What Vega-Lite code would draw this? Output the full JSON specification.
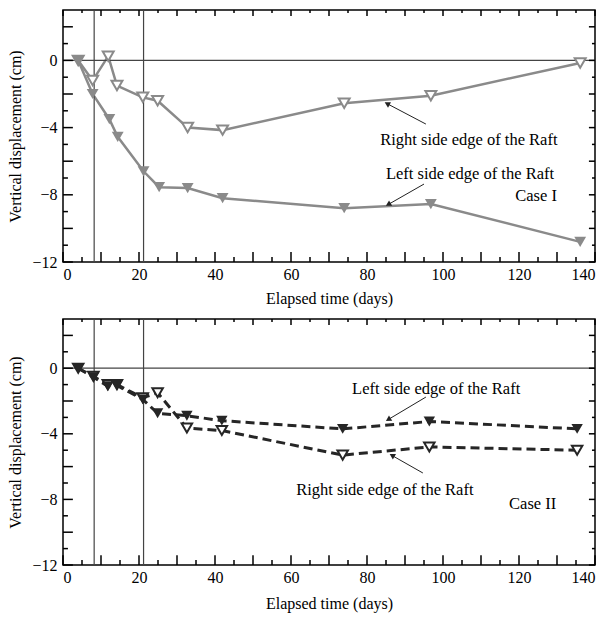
{
  "$schema": "https://vega.github.io/schema/vega-lite/v6.json",
  "padding": {"left": 7, "top": 8, "right": 18, "bottom": 4},
  "background": "white",
  "bounds": "flush",
  "spacing": 57,
  "config": {
    "view": {"stroke": "black", "strokeWidth": 1.5},
    "axis": {"grid": false, "ticks": false, "domain": false, "labelOverlap": false, "labelFont": "Liberation Serif", "titleFont": "Liberation Serif", "labelFontSize": 16, "titleFontSize": 16, "titleFontWeight": "normal", "labelColor": "black", "titleColor": "black"},
    "text": {"font": "Liberation Serif", "fontSize": 16.5, "color": "black"}
  },
  "datasets": {
    "xt": [
      {"day": 0, "m": 1}, {"day": 5, "m": 0}, {"day": 10, "m": 1}, {"day": 15, "m": 0}, {"day": 20, "m": 1}, {"day": 25, "m": 0}, {"day": 30, "m": 1}, {"day": 35, "m": 0}, {"day": 40, "m": 1}, {"day": 45, "m": 0}, {"day": 50, "m": 1}, {"day": 55, "m": 0}, {"day": 60, "m": 1}, {"day": 65, "m": 0}, {"day": 70, "m": 1}, {"day": 75, "m": 0}, {"day": 80, "m": 1}, {"day": 85, "m": 0}, {"day": 90, "m": 1}, {"day": 95, "m": 0}, {"day": 100, "m": 1}, {"day": 105, "m": 0}, {"day": 110, "m": 1}, {"day": 115, "m": 0}, {"day": 120, "m": 1}, {"day": 125, "m": 0}, {"day": 130, "m": 1}, {"day": 135, "m": 0}, {"day": 140, "m": 1}
    ],
    "yt": [
      {"disp": -12, "m": 1}, {"disp": -11, "m": 0}, {"disp": -10, "m": 1}, {"disp": -9, "m": 0}, {"disp": -8, "m": 1}, {"disp": -7, "m": 0}, {"disp": -6, "m": 1}, {"disp": -5, "m": 0}, {"disp": -4, "m": 1}, {"disp": -3, "m": 0}, {"disp": -2, "m": 1}, {"disp": -1, "m": 0}, {"disp": 0, "m": 1}, {"disp": 1, "m": 0}, {"disp": 2, "m": 1}
    ],
    "case1": [
      {"edge": "Left", "day": 4, "disp": 0}, {"edge": "Left", "day": 7.8, "disp": -2.0}, {"edge": "Left", "day": 12.2, "disp": -3.5}, {"edge": "Left", "day": 14.4, "disp": -4.55}, {"edge": "Left", "day": 21.2, "disp": -6.6}, {"edge": "Left", "day": 25.3, "disp": -7.55}, {"edge": "Left", "day": 32.8, "disp": -7.6}, {"edge": "Left", "day": 42, "disp": -8.2}, {"edge": "Left", "day": 74, "disp": -8.8}, {"edge": "Left", "day": 96.8, "disp": -8.55}, {"edge": "Left", "day": 136.1, "disp": -10.8},
      {"edge": "Right", "day": 4, "disp": 0}, {"edge": "Right", "day": 7.8, "disp": -1.2}, {"edge": "Right", "day": 11.9, "disp": 0.25}, {"edge": "Right", "day": 14.2, "disp": -1.5}, {"edge": "Right", "day": 21, "disp": -2.2}, {"edge": "Right", "day": 24.9, "disp": -2.4}, {"edge": "Right", "day": 32.8, "disp": -4.0}, {"edge": "Right", "day": 42, "disp": -4.15}, {"edge": "Right", "day": 74, "disp": -2.55}, {"edge": "Right", "day": 96.8, "disp": -2.1}, {"edge": "Right", "day": 136.1, "disp": -0.15}
    ],
    "case2": [
      {"edge": "Left", "day": 4, "disp": 0}, {"edge": "Left", "day": 8, "disp": -0.55}, {"edge": "Left", "day": 11.8, "disp": -1.1}, {"edge": "Left", "day": 14.2, "disp": -1.05}, {"edge": "Left", "day": 21, "disp": -1.9}, {"edge": "Left", "day": 24.9, "disp": -2.75}, {"edge": "Left", "day": 32.6, "disp": -2.9}, {"edge": "Left", "day": 41.8, "disp": -3.2}, {"edge": "Left", "day": 73.6, "disp": -3.7}, {"edge": "Left", "day": 96.4, "disp": -3.25}, {"edge": "Left", "day": 135.3, "disp": -3.7},
      {"edge": "Right", "day": 4, "disp": 0}, {"edge": "Right", "day": 8, "disp": -0.5}, {"edge": "Right", "day": 11.8, "disp": -1.0}, {"edge": "Right", "day": 14.2, "disp": -1.0}, {"edge": "Right", "day": 21, "disp": -1.8}, {"edge": "Right", "day": 24.9, "disp": -1.5}, {"edge": "Right", "day": 32.6, "disp": -3.65}, {"edge": "Right", "day": 41.8, "disp": -3.8}, {"edge": "Right", "day": 73.6, "disp": -5.3}, {"edge": "Right", "day": 96.4, "disp": -4.8}, {"edge": "Right", "day": 135.3, "disp": -5.0}
    ],
    "notes1": [
      {"day": 106.8, "disp": -4.74, "label": "Right side edge of the Raft"},
      {"day": 107.1, "disp": -6.76, "label": "Left side edge of the Raft"},
      {"day": 124.5, "disp": -8.07, "label": "Case I"}
    ],
    "notes2": [
      {"day": 98.2, "disp": -1.27, "label": "Left side edge of the Raft"},
      {"day": 84.7, "disp": -7.43, "label": "Right side edge of the Raft"},
      {"day": 123.6, "disp": -8.28, "label": "Case II"}
    ],
    "arrows1": [
      {"which": "R", "day": 95.5, "disp": -3.79, "day2": 85.5, "disp2": -2.6},
      {"which": "L", "day": 95, "disp": -7.36, "day2": 85.8, "disp2": -8.55}
    ],
    "arrows2": [
      {"which": "L", "day": 95.5, "disp": -1.76, "day2": 85.8, "disp2": -3.1},
      {"which": "R", "day": 94.7, "disp": -6.39, "day2": 86.8, "disp2": -5.35}
    ]
  },
  "vconcat": [
    {
      "width": 532, "height": 252,
      "layer": [
        {"data": {"name": "case1"},
         "mark": {"type": "line", "color": "#8a8a8a", "strokeWidth": 2.5},
         "encoding": {
           "x": {"field": "day", "type": "quantitative", "scale": {"domain": [0, 140], "nice": false},
             "axis": {"orient": "bottom", "values": [0,10,20,30,40,50,60,70,80,90,100,110,120,130,140], "labelOverlap": false, "labelPadding": 4, "title": "Elapsed time (days)", "titlePadding": 8}},
           "y": {"field": "disp", "type": "quantitative", "scale": {"domain": [-12, 3], "nice": false},
             "axis": {"orient": "left", "values": [-12,-10,-8,-6,-4,-2,0,2], "labelOverlap": false, "labelPadding": 6, "title": "Vertical displacement (cm)", "titlePadding": 8}},
           "detail": {"field": "edge"}}},
        {"data": {"values": [{"day": 8.2}, {"day": 21.2}]},
         "mark": {"type": "rule", "color": "#444", "strokeWidth": 1.2},
         "encoding": {"x": {"field": "day", "type": "quantitative", "scale": {"domain": [0, 140], "nice": false}}}},
        {"data": {"values": [{"disp": 0}]},
         "mark": {"type": "rule", "color": "#444", "strokeWidth": 1.2},
         "encoding": {"y": {"field": "disp", "type": "quantitative", "scale": {"domain": [-12, 3], "nice": false}}}},
        {"data": {"name": "xt"}, "transform": [{"filter": "datum.m === 1"}], "mark": {"type": "rule", "color": "black", "strokeWidth": 1.5},
         "encoding": {"x": {"field": "day", "type": "quantitative", "scale": {"domain": [0, 140], "nice": false}}, "y": {"datum": -12, "type": "quantitative", "scale": {"domain": [-12, 3], "nice": false}}, "y2": {"datum": -11.4}}},
        {"data": {"name": "xt"}, "transform": [{"filter": "datum.m === 0"}], "mark": {"type": "rule", "color": "black", "strokeWidth": 1.5},
         "encoding": {"x": {"field": "day", "type": "quantitative", "scale": {"domain": [0, 140], "nice": false}}, "y": {"datum": -12, "type": "quantitative", "scale": {"domain": [-12, 3], "nice": false}}, "y2": {"datum": -11.7}}},
        {"data": {"name": "xt"}, "transform": [{"filter": "datum.m === 1"}], "mark": {"type": "rule", "color": "black", "strokeWidth": 1.5},
         "encoding": {"x": {"field": "day", "type": "quantitative", "scale": {"domain": [0, 140], "nice": false}}, "y": {"datum": 3, "type": "quantitative", "scale": {"domain": [-12, 3], "nice": false}}, "y2": {"datum": 2.64}}},
        {"data": {"name": "xt"}, "transform": [{"filter": "datum.m === 0"}], "mark": {"type": "rule", "color": "black", "strokeWidth": 1.5},
         "encoding": {"x": {"field": "day", "type": "quantitative", "scale": {"domain": [0, 140], "nice": false}}, "y": {"datum": 3, "type": "quantitative", "scale": {"domain": [-12, 3], "nice": false}}, "y2": {"datum": 2.82}}},
        {"data": {"name": "yt"}, "transform": [{"filter": "datum.m === 1"}], "mark": {"type": "rule", "color": "black", "strokeWidth": 1.5},
         "encoding": {"y": {"field": "disp", "type": "quantitative", "scale": {"domain": [-12, 3], "nice": false}}, "x": {"datum": 0, "type": "quantitative", "scale": {"domain": [0, 140], "nice": false}}, "x2": {"datum": 2.6}}},
        {"data": {"name": "yt"}, "transform": [{"filter": "datum.m === 0"}], "mark": {"type": "rule", "color": "black", "strokeWidth": 1.5},
         "encoding": {"y": {"field": "disp", "type": "quantitative", "scale": {"domain": [-12, 3], "nice": false}}, "x": {"datum": 0, "type": "quantitative", "scale": {"domain": [0, 140], "nice": false}}, "x2": {"datum": 1.3}}},
        {"data": {"name": "yt"}, "transform": [{"filter": "datum.m === 1"}], "mark": {"type": "rule", "color": "black", "strokeWidth": 1.5},
         "encoding": {"y": {"field": "disp", "type": "quantitative", "scale": {"domain": [-12, 3], "nice": false}}, "x": {"datum": 140, "type": "quantitative", "scale": {"domain": [0, 140], "nice": false}}, "x2": {"datum": 138.4}}},
        {"data": {"name": "yt"}, "transform": [{"filter": "datum.m === 0"}], "mark": {"type": "rule", "color": "black", "strokeWidth": 1.5},
         "encoding": {"y": {"field": "disp", "type": "quantitative", "scale": {"domain": [-12, 3], "nice": false}}, "x": {"datum": 140, "type": "quantitative", "scale": {"domain": [0, 140], "nice": false}}, "x2": {"datum": 139.2}}},
        {"data": {"name": "case1"}, "transform": [{"filter": "datum.edge === 'Right'"}],
         "mark": {"type": "point", "shape": "triangle-down", "size": 120, "filled": true, "fill": "white", "stroke": "#8a8a8a", "strokeWidth": 2, "opacity": 1},
         "encoding": {
           "x": {"field": "day", "type": "quantitative", "scale": {"domain": [0, 140], "nice": false}},
           "y": {"field": "disp", "type": "quantitative", "scale": {"domain": [-12, 3], "nice": false}}}},
        {"data": {"name": "case1"}, "transform": [{"filter": "datum.edge === 'Left'"}],
         "mark": {"type": "point", "shape": "triangle-down", "size": 140, "filled": true, "color": "#8a8a8a", "opacity": 1},
         "encoding": {
           "x": {"field": "day", "type": "quantitative", "scale": {"domain": [0, 140], "nice": false}},
           "y": {"field": "disp", "type": "quantitative", "scale": {"domain": [-12, 3], "nice": false}}}},
        {"data": {"name": "arrows1"},
         "mark": {"type": "rule", "color": "#222", "strokeWidth": 1},
         "encoding": {
           "x": {"field": "day", "type": "quantitative", "scale": {"domain": [0, 140], "nice": false}},
           "y": {"field": "disp", "type": "quantitative", "scale": {"domain": [-12, 3], "nice": false}},
           "x2": {"field": "day2"}, "y2": {"field": "disp2"}}},
        {"data": {"name": "arrows1"}, "transform": [{"filter": "datum.which === 'R'"}],
         "mark": {"type": "point", "shape": "triangle", "size": 40, "filled": true, "color": "#222", "opacity": 1, "angle": 298},
         "encoding": {
           "x": {"field": "day2", "type": "quantitative", "scale": {"domain": [0, 140], "nice": false}},
           "y": {"field": "disp2", "type": "quantitative", "scale": {"domain": [-12, 3], "nice": false}}}},
        {"data": {"name": "arrows1"}, "transform": [{"filter": "datum.which === 'L'"}],
         "mark": {"type": "point", "shape": "triangle", "size": 40, "filled": true, "color": "#222", "opacity": 1, "angle": 240},
         "encoding": {
           "x": {"field": "day2", "type": "quantitative", "scale": {"domain": [0, 140], "nice": false}},
           "y": {"field": "disp2", "type": "quantitative", "scale": {"domain": [-12, 3], "nice": false}}}},
        {"data": {"name": "notes1"},
         "mark": {"type": "text"},
         "encoding": {
           "x": {"field": "day", "type": "quantitative", "scale": {"domain": [0, 140], "nice": false}},
           "y": {"field": "disp", "type": "quantitative", "scale": {"domain": [-12, 3], "nice": false}},
           "text": {"field": "label"}}}
      ]
    },
    {
      "width": 532, "height": 246,
      "layer": [
        {"data": {"name": "case2"},
         "mark": {"type": "line", "color": "#262626", "strokeWidth": 3, "strokeDash": [9, 5]},
         "encoding": {
           "x": {"field": "day", "type": "quantitative", "scale": {"domain": [0, 140], "nice": false},
             "axis": {"orient": "bottom", "values": [0,10,20,30,40,50,60,70,80,90,100,110,120,130,140], "labelOverlap": false, "labelPadding": 4, "title": "Elapsed time (days)", "titlePadding": 10}},
           "y": {"field": "disp", "type": "quantitative", "scale": {"domain": [-12, 3], "nice": false},
             "axis": {"orient": "left", "values": [-12,-10,-8,-6,-4,-2,0,2], "labelOverlap": false, "labelPadding": 6, "title": "Vertical displacement (cm)", "titlePadding": 8}},
           "detail": {"field": "edge"}}},
        {"data": {"values": [{"day": 8.2}, {"day": 21.2}]},
         "mark": {"type": "rule", "color": "#444", "strokeWidth": 1.2},
         "encoding": {"x": {"field": "day", "type": "quantitative", "scale": {"domain": [0, 140], "nice": false}}}},
        {"data": {"values": [{"disp": 0}]},
         "mark": {"type": "rule", "color": "#444", "strokeWidth": 1.2},
         "encoding": {"y": {"field": "disp", "type": "quantitative", "scale": {"domain": [-12, 3], "nice": false}}}},
        {"data": {"name": "xt"}, "transform": [{"filter": "datum.m === 1"}], "mark": {"type": "rule", "color": "black", "strokeWidth": 1.5},
         "encoding": {"x": {"field": "day", "type": "quantitative", "scale": {"domain": [0, 140], "nice": false}}, "y": {"datum": -12, "type": "quantitative", "scale": {"domain": [-12, 3], "nice": false}}, "y2": {"datum": -11.4}}},
        {"data": {"name": "xt"}, "transform": [{"filter": "datum.m === 0"}], "mark": {"type": "rule", "color": "black", "strokeWidth": 1.5},
         "encoding": {"x": {"field": "day", "type": "quantitative", "scale": {"domain": [0, 140], "nice": false}}, "y": {"datum": -12, "type": "quantitative", "scale": {"domain": [-12, 3], "nice": false}}, "y2": {"datum": -11.7}}},
        {"data": {"name": "xt"}, "transform": [{"filter": "datum.m === 1"}], "mark": {"type": "rule", "color": "black", "strokeWidth": 1.5},
         "encoding": {"x": {"field": "day", "type": "quantitative", "scale": {"domain": [0, 140], "nice": false}}, "y": {"datum": 3, "type": "quantitative", "scale": {"domain": [-12, 3], "nice": false}}, "y2": {"datum": 2.64}}},
        {"data": {"name": "xt"}, "transform": [{"filter": "datum.m === 0"}], "mark": {"type": "rule", "color": "black", "strokeWidth": 1.5},
         "encoding": {"x": {"field": "day", "type": "quantitative", "scale": {"domain": [0, 140], "nice": false}}, "y": {"datum": 3, "type": "quantitative", "scale": {"domain": [-12, 3], "nice": false}}, "y2": {"datum": 2.82}}},
        {"data": {"name": "yt"}, "transform": [{"filter": "datum.m === 1"}], "mark": {"type": "rule", "color": "black", "strokeWidth": 1.5},
         "encoding": {"y": {"field": "disp", "type": "quantitative", "scale": {"domain": [-12, 3], "nice": false}}, "x": {"datum": 0, "type": "quantitative", "scale": {"domain": [0, 140], "nice": false}}, "x2": {"datum": 2.6}}},
        {"data": {"name": "yt"}, "transform": [{"filter": "datum.m === 0"}], "mark": {"type": "rule", "color": "black", "strokeWidth": 1.5},
         "encoding": {"y": {"field": "disp", "type": "quantitative", "scale": {"domain": [-12, 3], "nice": false}}, "x": {"datum": 0, "type": "quantitative", "scale": {"domain": [0, 140], "nice": false}}, "x2": {"datum": 1.3}}},
        {"data": {"name": "yt"}, "transform": [{"filter": "datum.m === 1"}], "mark": {"type": "rule", "color": "black", "strokeWidth": 1.5},
         "encoding": {"y": {"field": "disp", "type": "quantitative", "scale": {"domain": [-12, 3], "nice": false}}, "x": {"datum": 140, "type": "quantitative", "scale": {"domain": [0, 140], "nice": false}}, "x2": {"datum": 138.4}}},
        {"data": {"name": "yt"}, "transform": [{"filter": "datum.m === 0"}], "mark": {"type": "rule", "color": "black", "strokeWidth": 1.5},
         "encoding": {"y": {"field": "disp", "type": "quantitative", "scale": {"domain": [-12, 3], "nice": false}}, "x": {"datum": 140, "type": "quantitative", "scale": {"domain": [0, 140], "nice": false}}, "x2": {"datum": 139.2}}},
        {"data": {"name": "case2"}, "transform": [{"filter": "datum.edge === 'Right'"}],
         "mark": {"type": "point", "shape": "triangle-down", "size": 110, "filled": true, "fill": "white", "stroke": "#262626", "strokeWidth": 2, "opacity": 1},
         "encoding": {
           "x": {"field": "day", "type": "quantitative", "scale": {"domain": [0, 140], "nice": false}},
           "y": {"field": "disp", "type": "quantitative", "scale": {"domain": [-12, 3], "nice": false}}}},
        {"data": {"name": "case2"}, "transform": [{"filter": "datum.edge === 'Left'"}],
         "mark": {"type": "point", "shape": "triangle-down", "size": 130, "filled": true, "color": "#262626", "opacity": 1},
         "encoding": {
           "x": {"field": "day", "type": "quantitative", "scale": {"domain": [0, 140], "nice": false}},
           "y": {"field": "disp", "type": "quantitative", "scale": {"domain": [-12, 3], "nice": false}}}},
        {"data": {"name": "arrows2"},
         "mark": {"type": "rule", "color": "#222", "strokeWidth": 1},
         "encoding": {
           "x": {"field": "day", "type": "quantitative", "scale": {"domain": [0, 140], "nice": false}},
           "y": {"field": "disp", "type": "quantitative", "scale": {"domain": [-12, 3], "nice": false}},
           "x2": {"field": "day2"}, "y2": {"field": "disp2"}}},
        {"data": {"name": "arrows2"}, "transform": [{"filter": "datum.which === 'L'"}],
         "mark": {"type": "point", "shape": "triangle", "size": 40, "filled": true, "color": "#222", "opacity": 1, "angle": 239},
         "encoding": {
           "x": {"field": "day2", "type": "quantitative", "scale": {"domain": [0, 140], "nice": false}},
           "y": {"field": "disp2", "type": "quantitative", "scale": {"domain": [-12, 3], "nice": false}}}},
        {"data": {"name": "arrows2"}, "transform": [{"filter": "datum.which === 'R'"}],
         "mark": {"type": "point", "shape": "triangle", "size": 40, "filled": true, "color": "#222", "opacity": 1, "angle": 300},
         "encoding": {
           "x": {"field": "day2", "type": "quantitative", "scale": {"domain": [0, 140], "nice": false}},
           "y": {"field": "disp2", "type": "quantitative", "scale": {"domain": [-12, 3], "nice": false}}}},
        {"data": {"name": "notes2"},
         "mark": {"type": "text"},
         "encoding": {
           "x": {"field": "day", "type": "quantitative", "scale": {"domain": [0, 140], "nice": false}},
           "y": {"field": "disp", "type": "quantitative", "scale": {"domain": [-12, 3], "nice": false}},
           "text": {"field": "label"}}}
      ]
    }
  ]
}
